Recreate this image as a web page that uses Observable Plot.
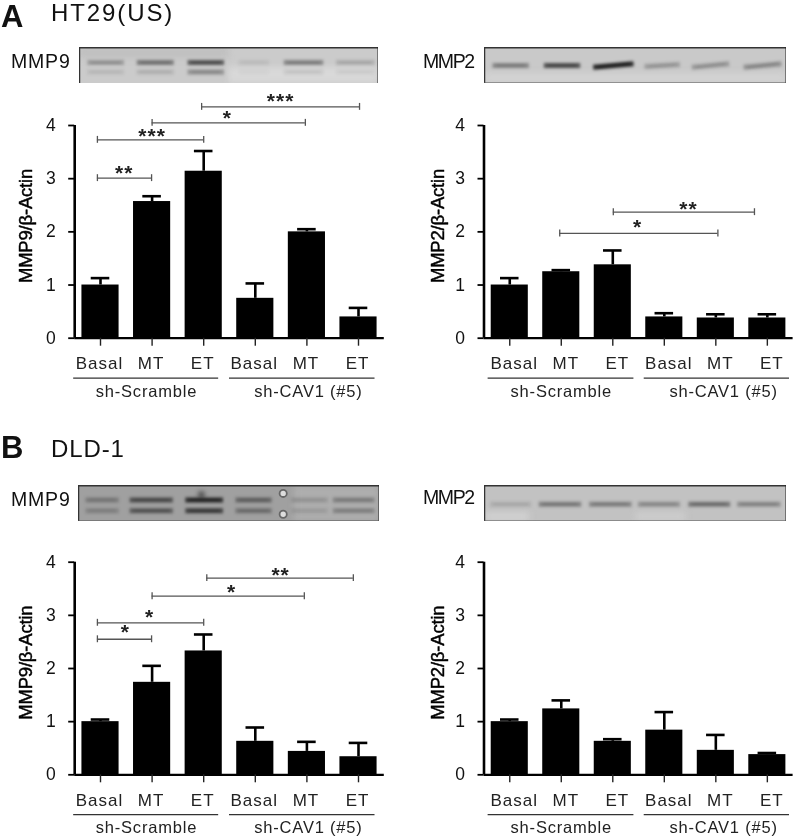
<!DOCTYPE html>
<html>
<head>
<meta charset="utf-8">
<script src="https://cdn.jsdelivr.net/npm/d3@7"></script>
<script src="https://cdn.jsdelivr.net/npm/@observablehq/plot@0.6"></script>
<style>
html,body{margin:0;padding:0;background:#fff}
#page{position:relative;width:796px;height:839px;overflow:hidden;font-family:"Liberation Sans",Arial,sans-serif;color:#111;filter:blur(.35px)}
#page>svg,#page>figure{position:absolute;margin:0}
.lbl{position:absolute;white-space:nowrap;line-height:1.1}
</style>
</head>
<body>
<div id="page"></div>
<script>
const conditions = ["Basal","MT","ET","Basal","MT","ET"];
const groups = ["sh-Scramble","sh-CAV1 (#5)"];

// Panel A, MMP9
const aMmp9Mean = [1.00,2.57,3.14,0.75,2.00,0.40];
const aMmp9Top  = [1.13,2.67,3.52,1.03,2.05,0.57];
const aMmp9From = [-0.06,-0.06,1.00,1.96];
const aMmp9To   = [0.99,2.00,3.97,5.02];
const aMmp9Level= [3.01,3.73,4.05,4.35];
const aMmp9Stars= ["**","***","*","***"];
const aMmp9StarLane = [0.46,1.00,2.46,3.49];
const aMmp9StarLevel= [3.13,3.83,4.17,4.49];

// Panel A, MMP2
const aMmp2Mean = [1.00,1.25,1.38,0.40,0.38,0.38];
const aMmp2Top  = [1.13,1.28,1.65,0.47,0.45,0.45];
const aMmp2From = [0.97,2.01];
const aMmp2To   = [4.04,4.75];
const aMmp2Level= [1.97,2.37];
const aMmp2Stars= ["*","**"];
const aMmp2StarLane = [2.48,3.47];
const aMmp2StarLevel= [2.12,2.46];

// Panel B, MMP9
const bMmp9Mean = [1.00,1.74,2.33,0.63,0.44,0.34];
const bMmp9Top  = [1.04,2.05,2.64,0.89,0.62,0.60];
const bMmp9From = [-0.06,-0.06,1.00,2.06];
const bMmp9To   = [0.99,2.00,3.95,4.90];
const bMmp9Level= [2.55,2.86,3.36,3.70];
const bMmp9Stars= ["*","*","*","**"];
const bMmp9StarLane = [0.48,0.95,2.54,3.49];
const bMmp9StarLevel= [2.71,3.01,3.48,3.80];

// Panel B, MMP2
const bMmp2Mean = [1.00,1.24,0.63,0.84,0.46,0.38];
const bMmp2Top  = [1.04,1.40,0.67,1.18,0.75,0.41];

// Blot band strengths per lane (0..1)
const blotA9Upper = [.26,.42,.60,.07,.36,.16];
const blotA9Lower = [.09,.12,.30,.03,.08,.05];
const blotA9Start = [.16,1.15,2.17,3.20,4.10,5.15];
const blotA9End   = [.89,1.89,2.90,3.80,4.89,5.92];
const blotA2Upper = [.36,.64,.88,.24,.26,.30];
const blotA2Start = [.16,1.18,2.16,3.18,4.12,5.15];
const blotA2End   = [.88,1.90,2.96,3.88,4.86,5.90];
const blotB9Upper = [.26,.55,.80,.40,.14,.28];
const blotB9Lower = [.20,.48,.66,.32,.10,.26];
const blotB9Start = [.14,1.02,2.13,3.13,4.24,5.07];
const blotB9End   = [.80,1.88,2.88,3.85,4.97,5.90];
const blotB2Upper = [.12,.36,.34,.28,.42,.30];
const blotB2Start = [.12,1.08,2.08,3.05,4.05,5.02];
const blotB2End   = [.92,1.92,2.92,3.88,4.88,5.88];

const page = document.getElementById("page");
const FONT = "Liberation Sans, Arial, sans-serif";

// render hook: sets a CSS property on the mark's group
const css = (prop, value) => (index, scales, values, dims, ctx, next) => {
  const g = next(index, scales, values, dims, ctx);
  g.style.setProperty(prop, value);
  return g;
};

function label(text, left, top, size, opts = {}) {
  const d = document.createElement("div");
  d.className = "lbl";
  d.textContent = text;
  d.style.left = left + "px";
  d.style.top = top + "px";
  d.style.fontSize = size + "px";
  d.style.fontWeight = opts.weight || "normal";
  d.style.letterSpacing = (opts.spacing || 0) + "px";
  page.appendChild(d);
}

function panel(cfg) {
  const lanes = d3.range(6);
  const brackets = (cfg.from || []).map((f, i) => ({from: f, to: cfg.to[i], level: cfg.level[i]}));
  const stars = (cfg.stars || []).map((s, i) => ({s, lane: cfg.starLane[i], level: cfg.starLevel[i]}));
  const svg = Plot.plot({
    width: 396, height: cfg.height,
    marginLeft: cfg.ml, marginRight: cfg.mr, marginTop: cfg.mt, marginBottom: cfg.mb,
    style: {background: "transparent", fontFamily: FONT, color: "#111", overflow: "visible"},
    x: {domain: [-0.5, 5.5]},
    y: {domain: [0, 4]},
    marks: [
      Plot.rectY(lanes, {x1: i => i - 0.36, x2: i => i + 0.36, y1: 0, y2: i => cfg.mean[i], fill: "#000"}),
      Plot.ruleX(lanes, {x: i => i, y1: i => cfg.mean[i], y2: i => cfg.top[i], stroke: "#000", strokeWidth: 2.6}),
      Plot.ruleY(lanes, {y: i => cfg.top[i], x1: i => i - 0.18, x2: i => i + 0.18, stroke: "#000", strokeWidth: 2.6}),
      Plot.ruleX([-0.5], {y1: 0, y2: 4, stroke: "#000", strokeWidth: 2.6}),
      Plot.ruleY([0], {x1: -0.5, x2: 5.5, stroke: "#000", strokeWidth: 2.2}),
      Plot.axisY({ticks: [0,1,2,3,4], tickFormat: d3.format("d"), tickSize: 6, tickPadding: 13, label: null, fontSize: 17.5, strokeWidth: 1.8, stroke: "#000"}),
      Plot.axisX({ticks: lanes, tickSize: 8, tickFormat: () => "", label: null, strokeWidth: 1.4, stroke: "#222"}),
      Plot.text(lanes, {x: i => i, y: -0.485, dx: cfg.labelDx, text: i => conditions[i], fontSize: 17, fill: "#222", render: css("letter-spacing", "1px")}),
      Plot.ruleY([-0.75], {x1: cfg.g1[0], x2: cfg.g1[1], stroke: "#333", strokeWidth: 1.2}),
      Plot.ruleY([-0.75], {x1: cfg.g2[0], x2: cfg.g2[1], stroke: "#333", strokeWidth: 1.2}),
      Plot.text([0, 1], {x: i => cfg.gc[i], y: -1.0, text: i => groups[i], fontSize: 16.5, fill: "#222", render: css("letter-spacing", "0.8px")}),
      Plot.ruleY(brackets, {y: "level", x1: "from", x2: "to", stroke: "#555", strokeWidth: 1.3}),
      Plot.ruleX(brackets, {x: "from", y1: d => d.level - 0.065, y2: d => d.level + 0.065, stroke: "#555", strokeWidth: 1.3}),
      Plot.ruleX(brackets, {x: "to", y1: d => d.level - 0.065, y2: d => d.level + 0.065, stroke: "#555", strokeWidth: 1.3}),
      Plot.text(stars, {x: "lane", y: "level", text: "s", fontSize: 21, fontWeight: "bold", dy: 2, fill: "#222", render: css("letter-spacing", "1px")}),
      Plot.text([cfg.yTitle], {x: -0.5, y: 2.11, dx: cfg.yTitleDx, text: d => d, rotate: -90, fontSize: 18.5, fill: "#000", stroke: "#000", strokeWidth: 0.45, render: css("letter-spacing", "-0.2px")})
    ]
  });
  svg.style.left = cfg.left + "px";
  svg.style.top = cfg.topPx + "px";
  page.appendChild(svg);
}

function blot(cfg) {
  const lanes = d3.range(6);
  const bands = [];
  lanes.forEach(i => {
    const rise = (cfg.rise || [])[i] || 0;
    bands.push({s: cfg.start[i], e: cfg.end[i], a: cfg.upperPos + rise, b: cfg.upperPos - rise, o: cfg.upper[i]});
    if (cfg.lower) bands.push({s: cfg.start[i], e: cfg.end[i], a: cfg.lowerPos + rise, b: cfg.lowerPos - rise, o: cfg.lower[i]});
  });
  const svg = Plot.plot({
    width: cfg.w, height: cfg.h, margin: 0,
    style: {background: "transparent", overflow: "hidden"},
    x: {domain: [0, 6], axis: null},
    y: {domain: [1, 0], axis: null},
    marks: [
      Plot.rect([0], {x1: 0, x2: 6, y1: 0, y2: 1, fill: cfg.bg}),
      Plot.rect(cfg.shade || [], {x1: "s", x2: "e", y1: "a", y2: "b", fill: "c", fillOpacity: 0.8, render: css("filter", "blur(3px)")}),
      Plot.dot(cfg.blob || [], {x: "x", y: "y", r: "r", fill: "#000", fillOpacity: 0.7, render: css("filter", "blur(2.5px)")}),
      Plot.link(bands, {x1: "s", x2: "e", y1: "a", y2: "b", stroke: "#111", strokeOpacity: "o", strokeWidth: cfg.bw || 5, render: css("filter", "blur(1.6px)")}),
      Plot.link(bands, {x1: d => d.s + 0.08, x2: d => d.e - 0.08, y1: "a", y2: "b", stroke: "#000", strokeOpacity: d => d.o * 0.3, strokeWidth: 1.8, render: css("filter", "blur(.9px)")}),
      Plot.dot(cfg.holes || [], {x: "x", y: "y", r: 3.6, fill: "#ddd", stroke: "#666", strokeWidth: 1.8}),
      Plot.ruleY([0], {stroke: "#333", strokeWidth: 2}),
      Plot.ruleX([0], {stroke: "#333", strokeWidth: 1.5}),
      Plot.ruleX([6], {stroke: "#222", strokeWidth: 2}),
      cfg.bottom ? Plot.ruleY([1], {stroke: "#555", strokeWidth: 2}) : null
    ]
  });
  svg.style.left = cfg.left + "px";
  svg.style.top = cfg.top + "px";
  page.appendChild(svg);
}

// Headings
label("A", 1, 0, 31, {weight: "bold"});
label("HT29(US)", 51, 0, 24, {spacing: 1.9});
label("B", 1, 431, 31, {weight: "bold"});
label("DLD-1", 51, 436, 24, {spacing: .9});
label("MMP9", 11, 51, 19.5, {spacing: .8});
label("MMP2", 423, 51, 19.5, {spacing: -1.4});
label("MMP9", 11, 489, 19.5, {spacing: .8});
label("MMP2", 423, 487, 19.5, {spacing: -1.4});

// Blots
blot({left: 79, top: 47, w: 299, h: 36, bg: "#cbcbcb", upper: blotA9Upper, lower: blotA9Lower, start: blotA9Start, end: blotA9End, upperPos: .42, lowerPos: .68,
  shade: [{s: 3, e: 6, a: .55, b: 1, c: "#dcdcdc"}, {s: 0, e: 3, a: .0, b: .3, c: "#bdbdbd"}]});
blot({left: 484, top: 47, w: 302, h: 36, bg: "#c9c9c9", upper: blotA2Upper, start: blotA2Start, end: blotA2End, upperPos: .5, rise: [0,0,.05,.03,.05,.05], bottom: true,
  shade: [{s: 0, e: 6, a: .72, b: 1, c: "#d6d6d6"}]});
blot({left: 78, top: 485, w: 301, h: 36, bg: "#a0a0a0", upper: blotB9Upper, lower: blotB9Lower, start: blotB9Start, end: blotB9End, upperPos: .4, lowerPos: .7, bottom: true,
  blob: [{x: 2.45, y: .26, r: 10}], holes: [{x: 4.08, y: .22}, {x: 4.08, y: .8}],
  shade: [{s: 4.3, e: 6, a: 0, b: 1, c: "#b2b2b2"}]});
blot({left: 484, top: 485, w: 302, h: 36, bg: "#c2c2c2", upper: blotB2Upper, start: blotB2Start, end: blotB2End, upperPos: .52, bottom: true,
  shade: [{s: 0, e: .9, a: .75, b: 1, c: "#d4d4d4"}, {s: 3, e: 4, a: .75, b: 1, c: "#d0d0d0"}]});

// Charts
const topRow = {height: 323, mt: 45, mb: 65.3, topPx: 80};
const botRow = {height: 314, mt: 36.7, mb: 64.7, topPx: 525};
const leftCol = {left: 0, ml: 74.2, mr: 12.2, labelDx: -1, g1: [-0.52, 2.29], g2: [2.5, 5.32], gc: [0.89, 4.03], yTitleDx: -49};
const rightCol = {left: 400, ml: 83.5, mr: 3.4, labelDx: 4.5, g1: [-0.42, 2.41], g2: [2.61, 5.43], gc: [1.0, 4.15], yTitleDx: -46};

panel({...topRow, ...leftCol, mean: aMmp9Mean, top: aMmp9Top, from: aMmp9From, to: aMmp9To, level: aMmp9Level, stars: aMmp9Stars, starLane: aMmp9StarLane, starLevel: aMmp9StarLevel, yTitle: "MMP9/β-Actin"});
panel({...topRow, ...rightCol, mean: aMmp2Mean, top: aMmp2Top, from: aMmp2From, to: aMmp2To, level: aMmp2Level, stars: aMmp2Stars, starLane: aMmp2StarLane, starLevel: aMmp2StarLevel, yTitle: "MMP2/β-Actin"});
panel({...botRow, ...leftCol, mean: bMmp9Mean, top: bMmp9Top, from: bMmp9From, to: bMmp9To, level: bMmp9Level, stars: bMmp9Stars, starLane: bMmp9StarLane, starLevel: bMmp9StarLevel, yTitle: "MMP9/β-Actin"});
panel({...botRow, ...rightCol, mean: bMmp2Mean, top: bMmp2Top, yTitle: "MMP2/β-Actin"});
</script>
</body>
</html>
